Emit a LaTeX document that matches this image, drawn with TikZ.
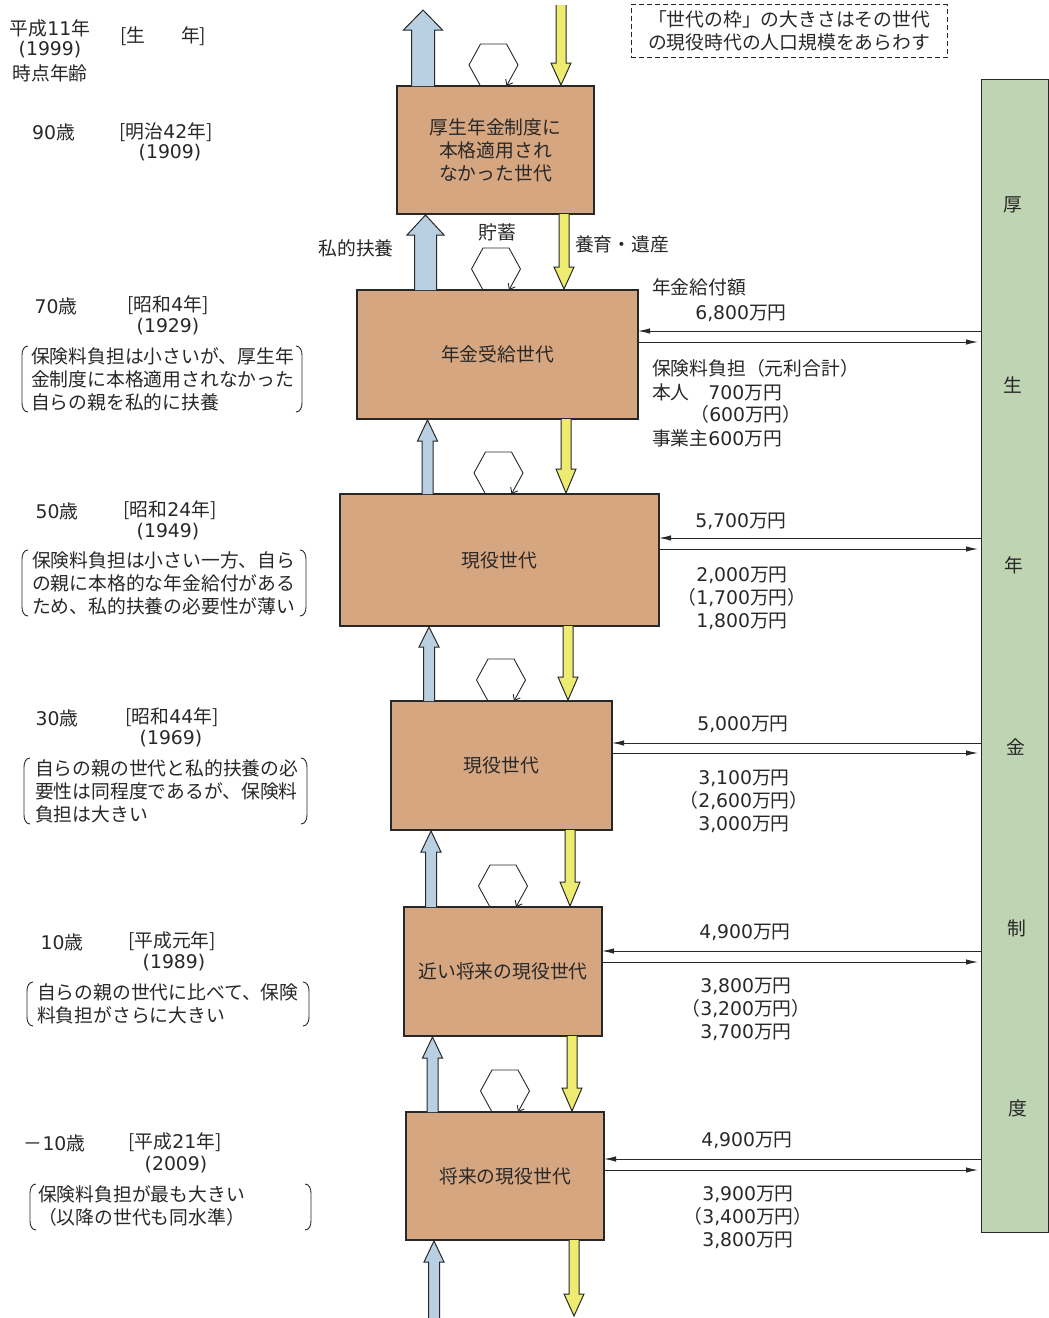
\documentclass[tikz,border=0pt]{standalone}
\usepackage{fontspec}
\setmainfont{Noto Sans CJK JP}
\newfontfamily\numfont{DejaVu Sans}[Scale=1.0]
\newcommand\nm[1]{{\numfont #1}}
\usetikzlibrary{arrows.meta}
\definecolor{boxfill}{RGB}{214,166,128}
\definecolor{barfill}{RGB}{190,212,178}
\definecolor{bluefill}{RGB}{184,208,226}
\definecolor{yelfill}{RGB}{238,236,112}
\definecolor{ink}{RGB}{40,40,40}
\newcommand\jf{\fontsize{18.8pt}{23pt}\selectfont}
% block arrow: cx, ytail, ybase, ytip, shaft half, head half, fill
\newcommand\blkarr[7]{%
  \fill[#7] (#1-#5,#2) -- (#1-#5,#3) -- (#1-#6,#3) -- (#1,#4) -- (#1+#6,#3) -- (#1+#5,#3) -- (#1+#5,#2) -- cycle;
  \draw[arrowline] (#1-#5,#2) -- (#1-#5,#3) -- (#1-#6,#3) -- (#1,#4) -- (#1+#6,#3) -- (#1+#5,#3) -- (#1+#5,#2);}
% savings loop: cx, ybase
\newcommand\hexloop[2]{%
  \draw[hexline] (#1-13,#2) -- (#1-24.5,#2-21) -- (#1-13,#2-42) -- (#1+13,#2-42) -- (#1+24.5,#2-21) -- (#1+13,#2);}
% brackets: x1, x2, ytop, ybot
\newcommand\brk[4]{%
  \draw[brline] (#1+6,#3) to[out=180,in=90] (#1,#3+9) -- (#1,#4-9) to[out=-90,in=180] (#1+6,#4);
  \draw[brline] (#2-6,#3) to[out=0,in=90] (#2,#3+9) -- (#2,#4-9) to[out=-90,in=0] (#2-6,#4);}
\begin{document}
\begin{tikzpicture}[x=1pt,y=-1pt,
  every node/.style={font=\jf, inner sep=0pt, outer sep=0pt, text=ink},
  gen/.style={draw=ink, line width=1.3pt, fill=boxfill, align=center},
  lbl/.style={align=center},
  lbll/.style={align=left, anchor=west},
  arrowline/.style={draw=ink, line width=1pt, line join=miter},
  hexline/.style={draw=ink, line width=0.9pt, -{Straight Barb[length=5pt,width=8pt]}},
  brline/.style={draw=ink, line width=0.9pt},
  flow/.style={draw=ink, line width=1pt, -{Latex[length=12pt,width=5.5pt]}},
]
\fill[white] (0,0) rectangle (1049,1318);
\useasboundingbox (0,0) rectangle (1049,1318);

% top-left header
\node[lbl] (h1) at (50,28) {平成\nm{11}年};
\node[lbl] (h2) at (50,50) {\nm{(1999)}};
\node[lbl] (h3) at (50,73) {時点年齢};
\node[lbll] (h4) at (120,36) {[生\hspace{36pt}年]};

% dashed note
\node[draw=ink, line width=0.9pt, dash pattern=on 5pt off 3pt, minimum width=316, minimum height=53, align=center] (note) at (789,31) {「世代の枠」の大きさはその世代\\の現役時代の人口規模をあらわす};

% generation boxes
\node[gen, minimum width=197, minimum height=128] (A) at (495.5,150) {厚生年金制度に\\本格適用され\\なかった世代};
\node[gen, minimum width=281, minimum height=129] (B) at (497.5,354.5) {年金受給世代};
\node[gen, minimum width=319, minimum height=132] (C) at (499.5,560) {現役世代};
\node[gen, minimum width=221, minimum height=129] (D) at (501.5,765.5) {現役世代};
\node[gen, minimum width=198, minimum height=129] (E) at (503,971.5) {近い将来の現役世代};
\node[gen, minimum width=198, minimum height=128] (F) at (505,1176) {将来の現役世代};

% pension system bar
\node[draw=ink, line width=1pt, fill=barfill, minimum width=67, minimum height=1153] (bar) at (1014.5,655.5) {};
\node (k1) at (1013,205) {厚};
\node (k2) at (1013,385) {生};
\node (k3) at (1014,565) {年};
\node (k4) at (1016,747) {金};
\node (k5) at (1017,928) {制};
\node (k6) at (1018,1108) {度};

% private support (blue, up)
\blkarr{423}{86}{30}{10}{11.5}{19.5}{bluefill}
\blkarr{425.5}{290}{235}{215}{11}{18.5}{bluefill}
\blkarr{427.5}{494}{441}{420}{5.5}{10}{bluefill}
\blkarr{429}{701}{647}{627}{5.5}{10}{bluefill}
\blkarr{431}{907}{852}{831}{5.5}{10}{bluefill}
\blkarr{432.5}{1112}{1058}{1037}{5.5}{10}{bluefill}
\blkarr{434}{1318}{1262}{1241}{5.5}{10}{bluefill}

% upbringing / inheritance (yellow, down)
\blkarr{561}{5}{63}{85}{5}{10}{yelfill}
\blkarr{564}{214}{267}{289}{5}{10}{yelfill}
\blkarr{566}{419}{469}{493}{5}{10}{yelfill}
\blkarr{568}{626}{677}{700}{5}{10}{yelfill}
\blkarr{570}{830}{882}{906}{5}{10}{yelfill}
\blkarr{572}{1036}{1088}{1111}{5}{10}{yelfill}
\blkarr{574}{1240}{1294}{1316}{5}{10}{yelfill}

% savings loops
\hexloop{493.5}{86}
\hexloop{496}{290}
\hexloop{498.5}{494}
\hexloop{501}{701}
\hexloop{503}{907}
\hexloop{505}{1112}

% flow labels
\node[lbl] (l1) at (356,248) {私的扶養};
\node[lbl] (l2) at (497,232) {貯蓄};
\node[lbll] (l3) at (575,244) {養育・遺産};

% benefit / contribution arrows
\draw[flow] (bar.west |- 0,331) -- (B.east |- 0,331);
\draw[flow, shorten >=3pt] (B.east |- 0,342) -- (bar.west |- 0,342);
\draw[flow] (bar.west |- 0,538) -- (C.east |- 0,538);
\draw[flow, shorten >=3pt] (C.east |- 0,549) -- (bar.west |- 0,549);
\draw[flow] (bar.west |- 0,743) -- (D.east |- 0,743);
\draw[flow, shorten >=3pt] (D.east |- 0,753) -- (bar.west |- 0,753);
\draw[flow] (bar.west |- 0,951) -- (E.east |- 0,951);
\draw[flow, shorten >=3pt] (E.east |- 0,962) -- (bar.west |- 0,962);
\draw[flow] (bar.west |- 0,1159) -- (F.east |- 0,1159);
\draw[flow, shorten >=3pt] (F.east |- 0,1170) -- (bar.west |- 0,1170);

% amounts
\node[lbll] (bB1) at (652,287) {年金給付額};
\node[lbl] (bB2) at (741,313) {\nm{6,800}万円};
\node[lbll] (cB1) at (652,368) {保険料負担（元利合計）};
\node[lbll] (cB2) at (652,392) {本人　\nm{700}万円};
\node[lbl] (cB3) at (746,414) {（\nm{600}万円）};
\node[lbll] (cB4) at (652,438) {事業主\nm{600}万円};

\node[lbl] (bC) at (741,521) {\nm{5,700}万円};
\node[lbl] (cC) at (742,598) {\nm{2,000}万円\\（\nm{1,700}万円）\\\nm{1,800}万円};
\node[lbl] (bD) at (743,724) {\nm{5,000}万円};
\node[lbl] (cD) at (744,801) {\nm{3,100}万円\\（\nm{2,600}万円）\\\nm{3,000}万円};
\node[lbl] (bE) at (745,932) {\nm{4,900}万円};
\node[lbl] (cE) at (746,1009) {\nm{3,800}万円\\（\nm{3,200}万円）\\\nm{3,700}万円};
\node[lbl] (bF) at (747,1140) {\nm{4,900}万円};
\node[lbl] (cF) at (748,1217) {\nm{3,900}万円\\（\nm{3,400}万円）\\\nm{3,800}万円};

% left column: ages, birth years, notes
\node[lbl] (a1) at (53.5,132) {\nm{90}歳};
\node[lbl] (y1) at (166,132) {[明治\nm{42}年]};
\node[lbl] (z1) at (170,153) {\nm{(1909)}};

\node[lbl] (a2) at (56,306) {\nm{70}歳};
\node[lbl] (y2) at (168,305) {[昭和\nm{4}年]};
\node[lbl] (z2) at (168,327) {\nm{(1929)}};
\node[lbll] (t2) at (31,379) {保険料負担は小さいが、厚生年\\金制度に本格適用されなかった\\自らの親を私的に扶養};
\brk{22}{302}{346}{412}

\node[lbl] (a3) at (57,511) {\nm{50}歳};
\node[lbl] (y3) at (170,510) {[昭和\nm{24}年]};
\node[lbl] (z3) at (168,532) {\nm{(1949)}};
\node[lbll] (t3) at (32,583) {保険料負担は小さい一方、自ら\\の親に本格的な年金給付がある\\ため、私的扶養の必要性が薄い};
\brk{22}{306}{550}{616}

\node[lbl] (a4) at (57,718) {\nm{30}歳};
\node[lbl] (y4) at (172,717) {[昭和\nm{44}年]};
\node[lbl] (z4) at (171,739) {\nm{(1969)}};
\node[lbll] (t4) at (35,791) {自らの親の世代と私的扶養の必\\要性は同程度であるが、保険料\\負担は大きい};
\brk{24}{307}{758}{824}

\node[lbl] (a5) at (62,942) {\nm{10}歳};
\node[lbl] (y5) at (172,941) {[平成元年]};
\node[lbl] (z5) at (174,963) {\nm{(1989)}};
\node[lbll] (t5) at (37,1003.5) {自らの親の世代に比べて、保険\\料負担がさらに大きい};
\brk{27}{309}{982}{1026}

\node[lbl] (a6) at (54.5,1143) {－\nm{10}歳};
\node[lbl] (y6) at (175,1142) {[平成\nm{21}年]};
\node[lbl] (z6) at (176,1165) {\nm{(2009)}};
\node[lbll] (t6) at (38,1205.5) {保険料負担が最も大きい\\（以降の世代も同水準）};
\brk{30}{311}{1184}{1230}
\end{tikzpicture}
\end{document}
